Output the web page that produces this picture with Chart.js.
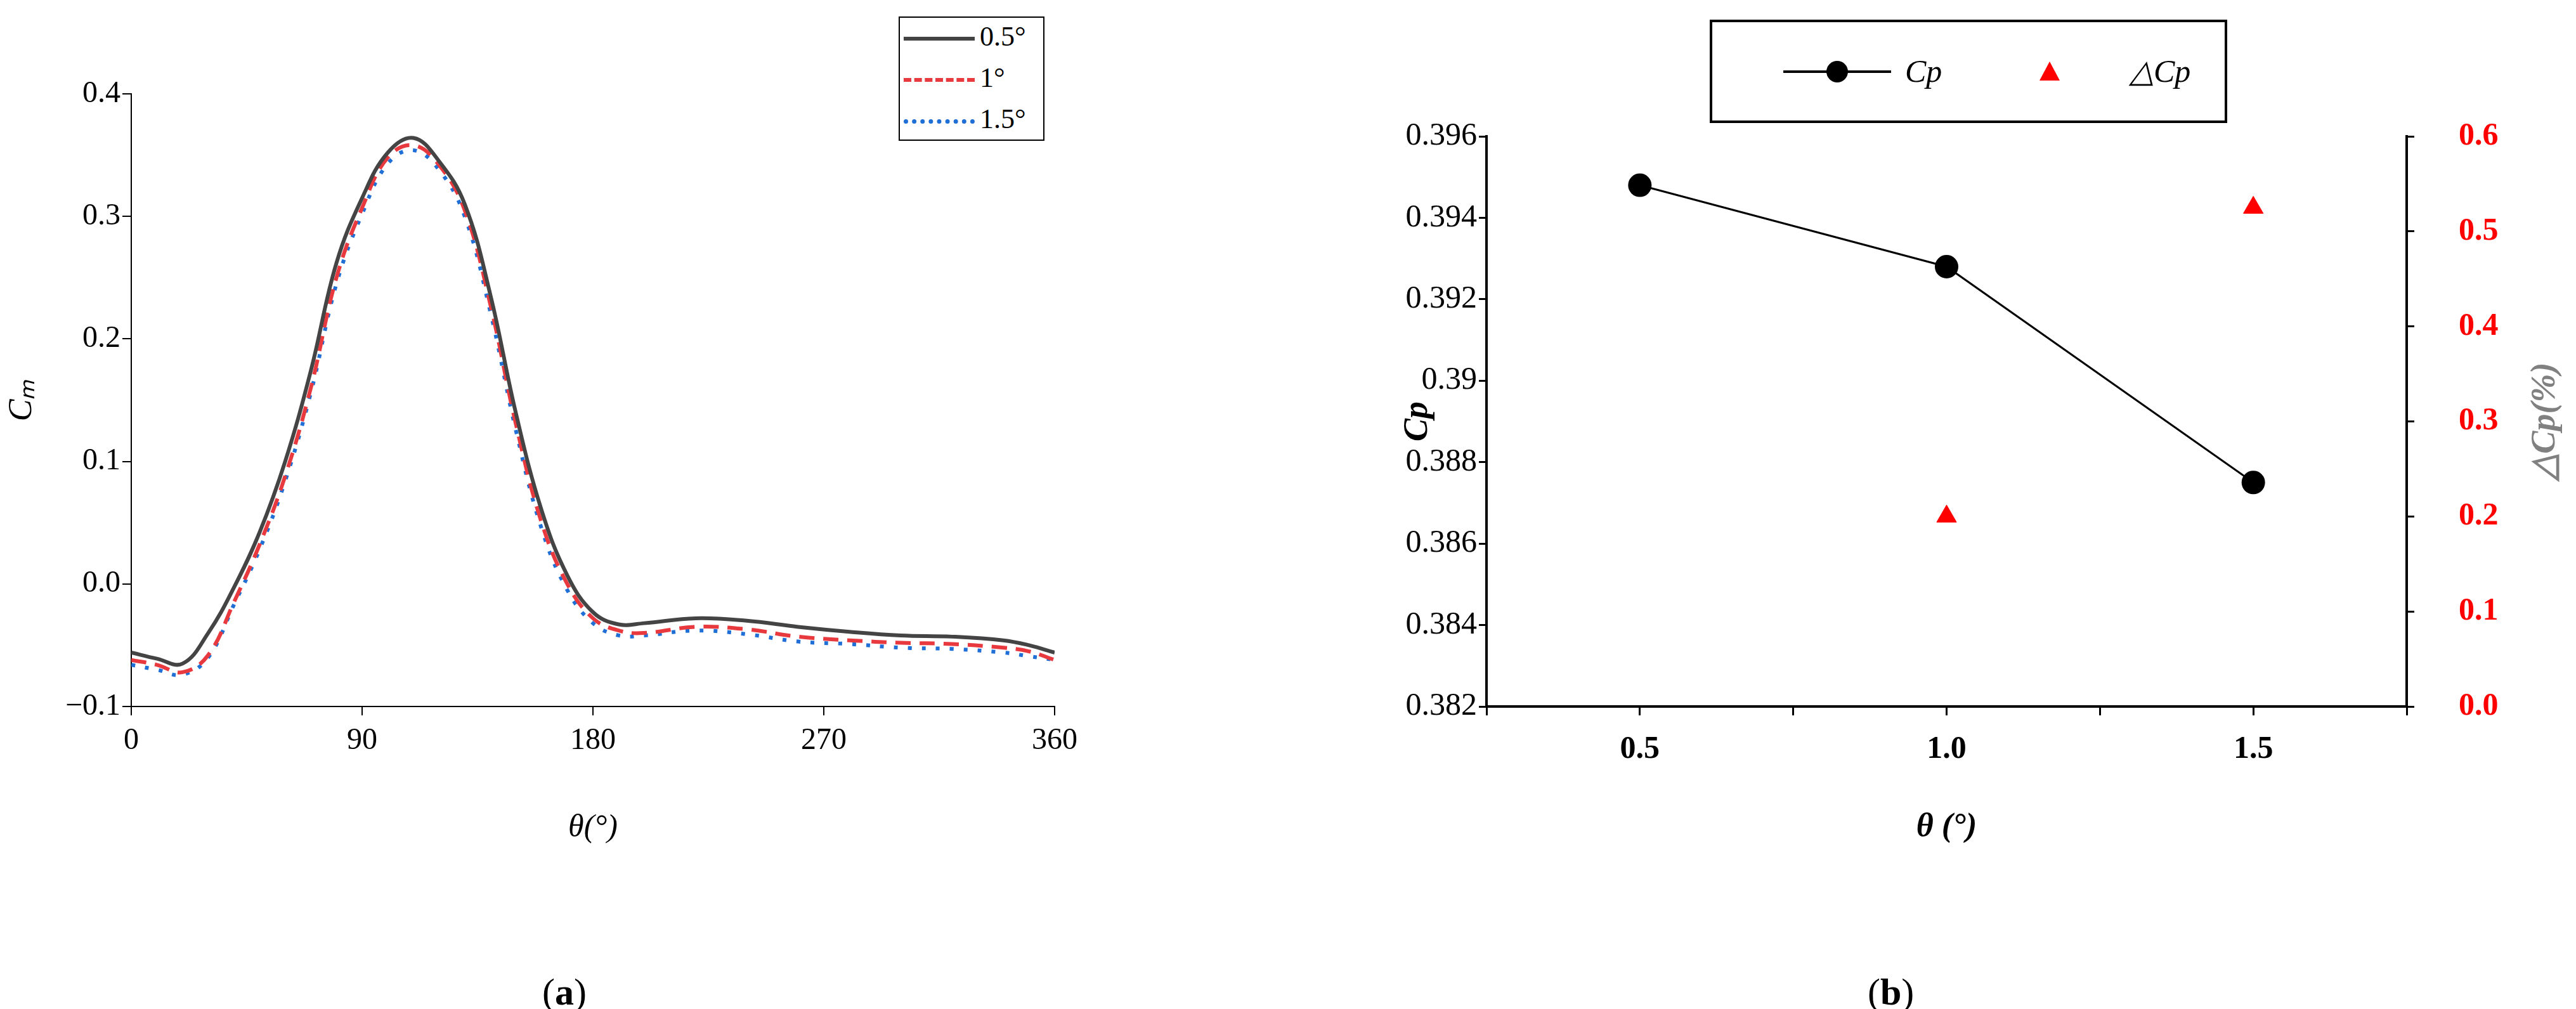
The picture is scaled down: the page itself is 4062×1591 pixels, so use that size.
<!DOCTYPE html>
<html>
<head>
<meta charset="utf-8">
<script src="https://cdn.jsdelivr.net/npm/chart.js@4.4.1/dist/chart.umd.min.js"></script>
<style>
  body { margin: 0; width: 4062px; height: 1591px; background: #fff; position: relative; overflow: hidden; font-family: "Liberation Serif", serif; }
  .box { position: absolute; }
  #legA { position: absolute; left: 1417px; top: 26px; width: 226px; height: 192px; border: 2px solid #000; background: #fff; font-size: 44px; }
  #legA div { position: absolute; left: 126px; }
  #legA span { position: absolute; left: 6px; width: 112px; height: 0; }
  #legB { position: absolute; left: 2696px; top: 31px; width: 808px; height: 155px; border: 4px solid #000; background: #fff; font-size: 50px; font-style: italic; }
  .cap { position: absolute; top: 1530px; font-size: 60px; }
</style>
</head>
<body>
<div class="box" style="left:0;top:0;width:1720px;height:1340px"><canvas id="chartA"></canvas></div>
<div class="box" style="left:2200px;top:0;width:1862px;height:1340px"><canvas id="chartB"></canvas></div>

<div id="legA">
  <span style="top:30px;border-top:6px solid #444"></span><div style="top:4px">0.5°</div>
  <span style="top:95px;border-top:6px dashed #e8393f"></span><div style="top:69px">1°</div>
  <span style="top:160px;border-top:7px dotted #1f6fd6"></span><div style="top:134px">1.5°</div>
</div>

<div id="legB">
  <span style="position:absolute;left:112px;top:76px;width:170px;border-top:4px solid #000"></span>
  <span style="position:absolute;left:180px;top:61px;width:34px;height:34px;border-radius:50%;background:#000"></span>
  <div style="position:absolute;left:304px;top:48px">Cp</div>
  <span style="position:absolute;left:516px;top:62px;width:0;height:0;border-left:16px solid transparent;border-right:16px solid transparent;border-bottom:30px solid #f00"></span>
  <div style="position:absolute;left:658px;top:48px">△Cp</div>
</div>

<div class="cap" style="left:855px">(<b>a</b>)</div>
<div class="cap" style="left:2945px">(<b>b</b>)</div>

<script>
// ---- (a) moment coefficient vs azimuth
const theta = [0, 10, 20, 30, 40, 50, 60, 70, 80, 90, 100, 110, 120, 130, 140, 150, 160, 170, 180, 190, 200, 220, 240, 260, 280, 300, 320, 340, 350, 360];
const cm05 = [-0.056, -0.061, -0.065, -0.04, -0.003, 0.042, 0.1, 0.174, 0.262, 0.315, 0.352, 0.364, 0.345, 0.31, 0.236, 0.139, 0.06, 0.007, -0.023, -0.033, -0.032, -0.028, -0.03, -0.035, -0.039, -0.042, -0.043, -0.046, -0.05, -0.056];
const cm10 = [-0.062, -0.066, -0.072, -0.058, -0.015, 0.032, 0.088, 0.16, 0.25, 0.307, 0.348, 0.358, 0.342, 0.305, 0.228, 0.13, 0.05, 0.0, -0.028, -0.038, -0.04, -0.035, -0.037, -0.043, -0.046, -0.048, -0.049, -0.052, -0.055, -0.062];
const cm15 = [-0.066, -0.07, -0.074, -0.06, -0.017, 0.028, 0.084, 0.156, 0.245, 0.302, 0.343, 0.354, 0.338, 0.3, 0.222, 0.125, 0.045, -0.005, -0.032, -0.042, -0.042, -0.038, -0.041, -0.047, -0.049, -0.052, -0.053, -0.056, -0.059, -0.062];

// ---- (b) power coefficient vs pitch
const pitch = [0.5, 1.0, 1.5];
const cp = [0.3948, 0.3928, 0.3875];
const dcp = [null, 0.2, 0.525];

Chart.defaults.font.family = '"Liberation Serif", serif';
Chart.defaults.color = '#000';

const pts = arr => theta.map((t, i) => ({x: t, y: arr[i]}));

new Chart(document.getElementById('chartA'), {
  type: 'line',
  data: {
    datasets: [
      {label: '0.5°', data: pts(cm05), borderColor: '#444', borderWidth: 6, pointRadius: 0, tension: 0.4},
      {label: '1°', data: pts(cm10), borderColor: '#e8393f', borderWidth: 6, borderDash: [24, 14], pointRadius: 0, tension: 0.4},
      {label: '1.5°', data: pts(cm15), borderColor: '#1f6fd6', borderWidth: 6, borderDash: [6, 16], pointRadius: 0, tension: 0.4}
    ]
  },
  options: {
    responsive: true, maintainAspectRatio: false, animation: false,
    layout: {padding: {left: 0, right: 57, top: 148, bottom: 0}},
    plugins: {legend: {display: false}, tooltip: {enabled: false}},
    scales: {
      x: {
        type: 'linear', min: 0, max: 360,
        ticks: {stepSize: 90, font: {size: 48}, padding: 12},
        grid: {drawOnChartArea: false, tickLength: 14, color: '#000', lineWidth: 2},
        border: {color: '#000', width: 2},
        title: {display: true, text: 'θ(°)', font: {size: 50, style: 'italic'}, padding: {top: 50}},
        afterFit: s => { s.height = 226; }
      },
      y: {
        min: -0.1, max: 0.4,
        ticks: {stepSize: 0.1, font: {size: 48}, callback: v => v < 0 ? '−' + Math.abs(v).toFixed(1) : v.toFixed(1)},
        grid: {drawOnChartArea: false, tickLength: 14, color: '#000', lineWidth: 2},
        border: {color: '#000', width: 2},
        title: {display: true, text: 'Cₘ', font: {size: 52, style: 'italic'}},
        afterFit: s => { s.width = 207; }
      }
    }
  }
});

// right-hand title reading bottom to top, as in the reference
const rightTitle = {
  id: 'rightTitle',
  afterDraw(chart) {
    const s = chart.scales.y1, ctx = chart.ctx;
    ctx.save();
    ctx.translate(s.right - 48, (s.top + s.bottom) / 2);
    ctx.rotate(-Math.PI / 2);
    ctx.fillStyle = '#808080';
    ctx.font = 'italic bold 54px "Liberation Serif", serif';
    ctx.textAlign = 'center';
    ctx.textBaseline = 'middle';
    ctx.fillText('△Cp(%)', 0, 0);
    ctx.restore();
  }
};

new Chart(document.getElementById('chartB'), {
  type: 'line',
  data: {
    datasets: [
      {label: 'Cp', data: pitch.map((p, i) => ({x: p, y: cp[i]})), yAxisID: 'y', borderColor: '#000', backgroundColor: '#000', borderWidth: 3, pointRadius: 17, pointStyle: 'circle'},
      {label: '△Cp', data: pitch.map((p, i) => ({x: p, y: dcp[i]})), yAxisID: 'y1', showLine: false, borderColor: '#f00', backgroundColor: '#f00', pointRadius: 18, pointStyle: 'triangle'}
    ]
  },
  plugins: [rightTitle],
  options: {
    responsive: true, maintainAspectRatio: false, animation: false,
    layout: {padding: {left: 0, right: 0, top: 215, bottom: 0}},
    plugins: {legend: {display: false}, tooltip: {enabled: false}},
    scales: {
      x: {
        type: 'linear', min: 0.25, max: 1.75,
        ticks: {stepSize: 0.25, font: {size: 50, weight: 'bold'}, padding: 24,
          callback: v => (Math.abs(v * 2 - Math.round(v * 2)) < 1e-6 && v > 0.3 && v < 1.7) ? v.toFixed(1) : ''},
        grid: {drawOnChartArea: false, tickLength: 14, color: '#000', lineWidth: 3},
        border: {color: '#000', width: 4},
        title: {display: true, text: 'θ (°)', font: {size: 52, weight: 'bold', style: 'italic'}, padding: {top: 26}},
        afterFit: s => { s.height = 226; }
      },
      y: {
        position: 'left', min: 0.382, max: 0.396,
        ticks: {stepSize: 0.002, font: {size: 50}, callback: v => String(parseFloat(v.toFixed(3)))},
        grid: {drawOnChartArea: false, tickLength: 12, color: '#000', lineWidth: 3},
        border: {color: '#000', width: 4},
        title: {display: true, text: 'Cp', font: {size: 54, weight: 'bold', style: 'italic'}, padding: {bottom: 0}},
        afterFit: s => { s.width = 144; }
      },
      y1: {
        position: 'right', min: 0, max: 0.6,
        ticks: {stepSize: 0.1, color: '#f00', font: {size: 50, weight: 'bold'}, padding: 70, callback: v => v.toFixed(1)},
        grid: {drawOnChartArea: false, tickLength: 12, color: '#000', lineWidth: 3},
        border: {color: '#000', width: 4},
        afterFit: s => { s.width = 267; }
      }
    }
  }
});
</script>
</body>
</html>
